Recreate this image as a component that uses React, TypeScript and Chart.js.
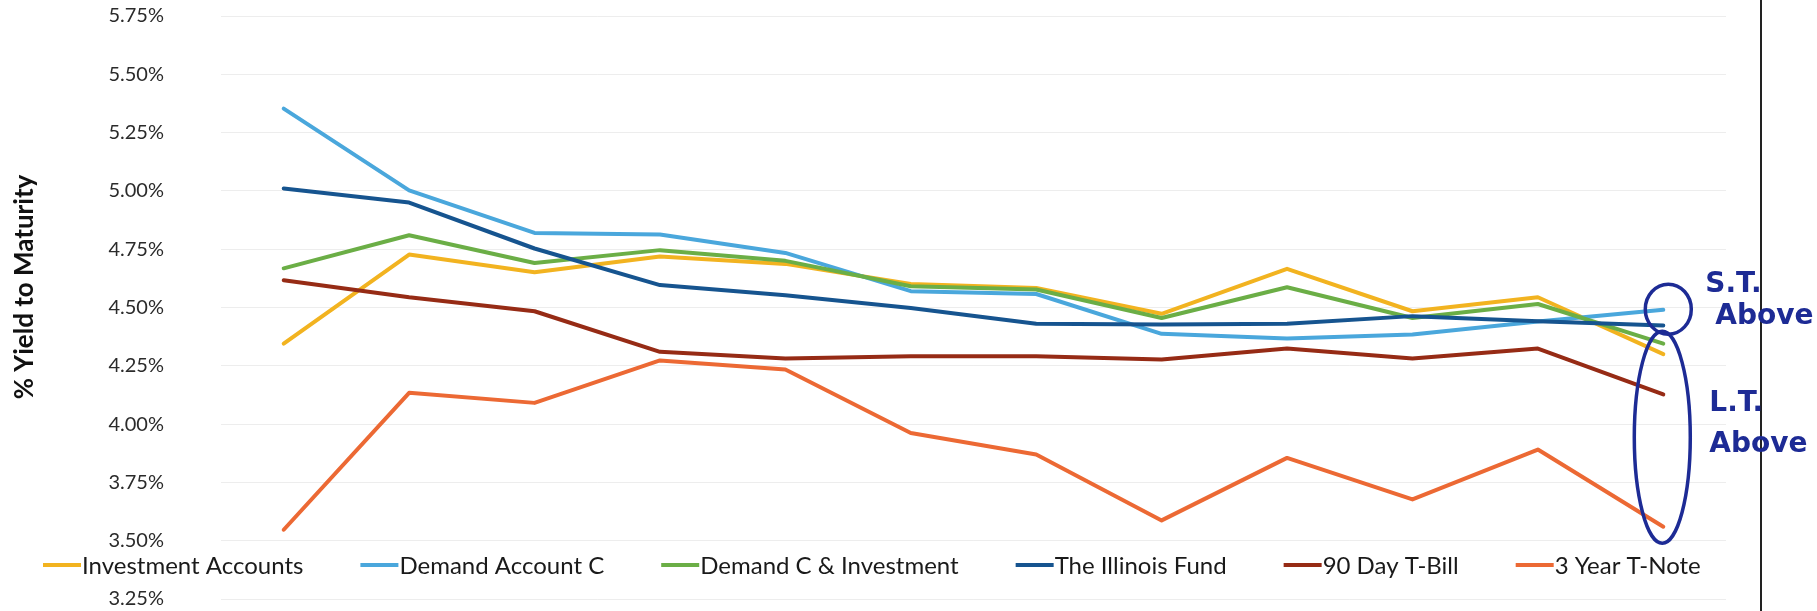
import React, { useEffect, useRef } from 'react';
import { Chart, registerables } from 'chart.js';

Chart.register(...registerables);

// ---------- data ----------
const periods = ['1', '2', '3', '4', '5', '6', '7', '8', '9', '10', '11', '12'];

const yTickValues = [3.25, 3.5, 3.75, 4.0, 4.25, 4.5, 4.75, 5.0, 5.25, 5.5, 5.75];

const seriesNames = [
  'Investment Accounts',
  'Demand Account C',
  'Demand C & Investment',
  'The Illinois Fund',
  '90 Day T-Bill',
  '3 Year T-Note',
];

const investmentAccounts = [4.345, 4.727, 4.651, 4.719, 4.687, 4.601, 4.584, 4.473, 4.666, 4.484, 4.544, 4.3];
const demandAccountC = [5.353, 5.002, 4.82, 4.813, 4.734, 4.57, 4.558, 4.387, 4.367, 4.384, 4.44, 4.49];
const demandCInvestment = [4.668, 4.81, 4.691, 4.746, 4.7, 4.591, 4.577, 4.455, 4.587, 4.455, 4.515, 4.345];
const illinoisFund = [5.01, 4.95, 4.753, 4.596, 4.553, 4.498, 4.43, 4.427, 4.43, 4.463, 4.441, 4.423];
const tBill90 = [4.617, 4.544, 4.484, 4.31, 4.281, 4.291, 4.291, 4.277, 4.324, 4.281, 4.324, 4.127];
const tNote3 = [3.547, 4.134, 4.091, 4.273, 4.234, 3.962, 3.87, 3.587, 3.855, 3.677, 3.891, 3.56];

const seriesValues = [investmentAccounts, demandAccountC, demandCInvestment, illinoisFund, tBill90, tNote3];
const seriesColors = ['#F2B320', '#4AA7DC', '#6BAE46', '#16548F', '#962B15', '#EC6934'];

const axisTitle = '% Yield to Maturity';

// handwritten notes (value-space anchors on the last category)
const noteColor = '#1d2b95';
const noteTexts = [
  ['S.T.', 'Above'],
  ['L.T.', 'Above'],
];

// ---------- layout constants ----------
const W = 1817;
const H = 611;
const Y_AXIS_WIDTH = 221;
const LEGEND_FONT = '24px Lato';

const overlayPlugin = {
  id: 'overlay',
  afterDraw(chart: any) {
    const ctx = chart.ctx as CanvasRenderingContext2D;
    const yScale = chart.scales.y;
    const xScale = chart.scales.x;

    // y axis title
    ctx.save();
    ctx.translate(25, 287);
    ctx.rotate(-Math.PI / 2);
    ctx.font = 'bold 26px Lato';
    ctx.fillStyle = '#111';
    ctx.textAlign = 'center';
    ctx.textBaseline = 'middle';
    ctx.fillText(axisTitle, 0, 0);
    ctx.restore();

    // legend row (inside the plot, near the bottom)
    ctx.save();
    ctx.font = LEGEND_FONT;
    ctx.textBaseline = 'middle';
    ctx.textAlign = 'left';
    let lx = 43;
    const ly = 565;
    const lineLen = 38;
    chart.data.datasets.forEach((ds: any) => {
      ctx.strokeStyle = ds.borderColor;
      ctx.lineWidth = 4;
      ctx.beginPath();
      ctx.moveTo(lx, ly);
      ctx.lineTo(lx + lineLen, ly);
      ctx.stroke();
      ctx.fillStyle = '#1a1a1a';
      ctx.fillText(ds.label, lx + lineLen + 1, ly + 1);
      lx += lineLen + 1 + ctx.measureText(ds.label).width + 57;
    });
    ctx.restore();

    // vertical page edge line of the scan
    ctx.save();
    ctx.strokeStyle = '#222';
    ctx.lineWidth = 2;
    ctx.beginPath();
    ctx.moveTo(1761, 0);
    ctx.lineTo(1761, H);
    ctx.stroke();
    ctx.restore();

    // handwritten annotations
    const lastX = xScale.getPixelForValue(periods.length - 1);
    ctx.save();
    ctx.strokeStyle = noteColor;
    ctx.fillStyle = noteColor;
    ctx.lineWidth = 3.5;
    const c1y = yScale.getPixelForValue(4.493);
    ctx.beginPath();
    ctx.ellipse(lastX + 5, c1y, 23, 25, 0, 0, Math.PI * 2);
    ctx.stroke();
    const topY = yScale.getPixelForValue(4.398);
    const botY = yScale.getPixelForValue(3.489);
    ctx.beginPath();
    ctx.ellipse(lastX - 1, (topY + botY) / 2, 28, (botY - topY) / 2, 0, 0, Math.PI * 2);
    ctx.stroke();

    ctx.font = 'bold 28px "DejaVu Sans"';
    ctx.textAlign = 'left';
    ctx.textBaseline = 'alphabetic';
    ctx.fillText(noteTexts[0][0], lastX + 42, yScale.getPixelForValue(4.565));
    ctx.fillText(noteTexts[0][1], lastX + 52, yScale.getPixelForValue(4.43));
    ctx.fillText(noteTexts[1][0], lastX + 46, yScale.getPixelForValue(4.055));
    ctx.fillText(noteTexts[1][1], lastX + 46, yScale.getPixelForValue(3.88));
    ctx.restore();
  },
};

export default function App() {
  const canvasRef = useRef<HTMLCanvasElement | null>(null);

  useEffect(() => {
    document.body.style.margin = '0';
    document.body.style.background = '#fff';
    const canvas = canvasRef.current;
    if (!canvas) return;

    const chart = new Chart(canvas, {
      type: 'line',
      data: {
        labels: periods,
        datasets: seriesNames.map((name, i) => ({
          label: name,
          data: seriesValues[i],
          borderColor: seriesColors[i],
          backgroundColor: seriesColors[i],
          borderWidth: 4,
          pointRadius: 0,
          pointHoverRadius: 0,
          tension: 0,
          fill: false,
          borderCapStyle: 'round',
          borderJoinStyle: 'round',
          order: -i,
        })),
      },
      options: {
        responsive: false,
        animation: false,
        devicePixelRatio: 1,
        layout: { padding: { top: 16, bottom: 12, left: 0, right: W - 1726 } },
        plugins: {
          legend: { display: false },
          title: { display: false },
          tooltip: { enabled: false },
        },
        scales: {
          x: {
            type: 'category',
            offset: true,
            display: false,
            grid: { display: false },
          },
          y: {
            min: 3.25,
            max: 5.75,
            afterBuildTicks: (scale: any) => {
              scale.ticks = yTickValues.map((v) => ({ value: v }));
            },
            afterFit: (scale: any) => {
              scale.width = Y_AXIS_WIDTH;
            },
            border: { display: false },
            grid: {
              color: 'rgba(0,0,0,0.07)',
              lineWidth: 1,
              drawTicks: true,
              tickLength: 57,
              tickColor: 'rgba(0,0,0,0)',
            },
            ticks: {
              padding: 0,
              color: '#2b2b2b',
              font: { family: 'Lato', size: 20 },
              callback: (v: any) => Number(v).toFixed(2) + '%',
            },
          },
        },
      },
      plugins: [overlayPlugin],
    });

    return () => chart.destroy();
  }, []);

  return (
    <div style={{ width: W, height: H, position: 'relative', background: '#fff' }}>
      <canvas ref={canvasRef} width={W} height={H} style={{ display: 'block' }} />
    </div>
  );
}
